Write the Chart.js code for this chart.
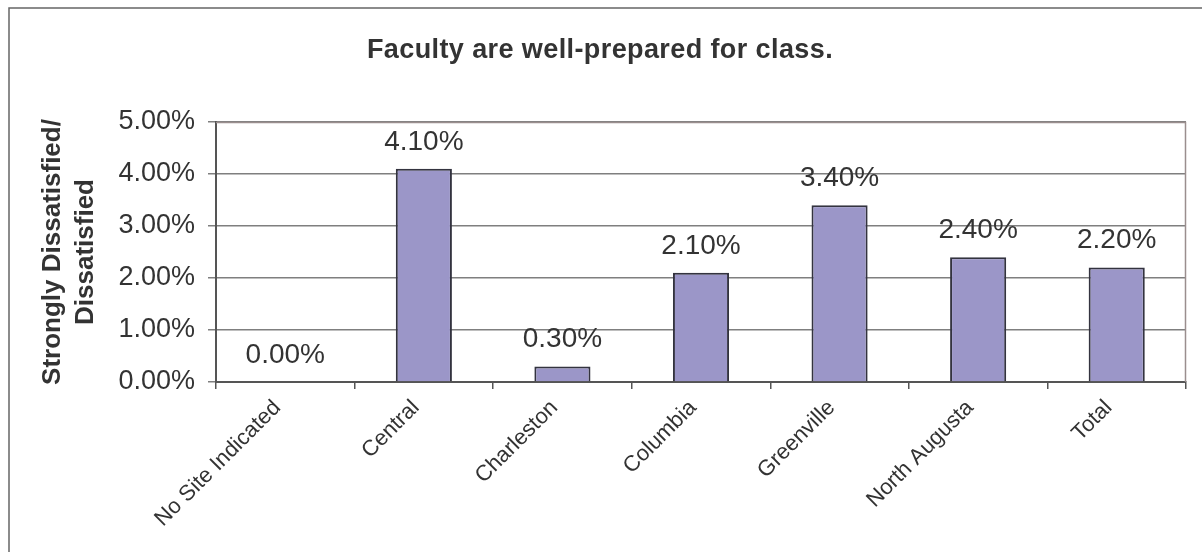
<!DOCTYPE html>
<html>
<head>
<meta charset="utf-8">
<script src="https://cdn.jsdelivr.net/npm/chart.js@4.4.1/dist/chart.umd.min.js"></script>
<style>
html,body{margin:0;padding:0;background:#fff;}
#wrap{width:1202px;height:552px;position:relative;}
</style>
</head>
<body>
<div id="wrap"><canvas id="c" width="1202" height="552"></canvas></div>
<script>
const chartTitle = 'Faculty are well-prepared for class.';
const yAxisTitle = ['Strongly Dissatisfied/', 'Dissatisfied'];
const categories = ['No Site Indicated', 'Central', 'Charleston', 'Columbia', 'Greenville', 'North Augusta', 'Total'];
const values = [0.0, 4.1, 0.3, 2.1, 3.4, 2.4, 2.2];
const yTicks = [0, 1, 2, 3, 4, 5];

const FONT = '"Liberation Sans", Arial, sans-serif';

const decor = {
  id: 'decor',
  beforeDraw(chart) {
    const ctx = chart.ctx;
    ctx.save();
    ctx.fillStyle = '#fff';
    ctx.fillRect(0, 0, chart.width, chart.height);
    ctx.strokeStyle = '#666';
    ctx.lineWidth = 1.5;
    ctx.strokeRect(9, 8, chart.width + 20, chart.height + 20);
    ctx.restore();
  },
  afterDraw(chart) {
    const ctx = chart.ctx;
    const a = chart.chartArea;
    ctx.save();
    // plot frame top/right
    ctx.strokeStyle = '#9a8e8e';
    ctx.lineWidth = 1.5;
    ctx.beginPath();
    ctx.moveTo(a.left, a.top + 0.5);
    ctx.lineTo(a.right - 0.5, a.top + 0.5);
    ctx.lineTo(a.right - 0.5, a.bottom);
    ctx.stroke();
    // title
    ctx.fillStyle = '#333';
    ctx.font = 'bold 27px ' + FONT;
    ctx.textAlign = 'center';
    ctx.textBaseline = 'middle';
    ctx.letterSpacing = '0.4px';
    ctx.fillText(chartTitle, 600, 51);
    ctx.letterSpacing = '0px';
    // y axis title
    ctx.save();
    ctx.translate(0, (a.top + a.bottom) / 2);
    ctx.rotate(-Math.PI / 2);
    ctx.font = 'bold 26px ' + FONT;
    ctx.fillText(yAxisTitle[0], 0, 53);
    ctx.fillText(yAxisTitle[1], 0, 86);
    ctx.restore();
    // data labels
    const meta = chart.getDatasetMeta(0);
    ctx.font = '28px ' + FONT;
    ctx.fillStyle = '#333';
    ctx.textAlign = 'center';
    ctx.textBaseline = 'middle';
    meta.data.forEach((bar, i) => {
      ctx.fillText(values[i].toFixed(2) + '%', bar.x, bar.y - 27);
    });
    ctx.restore();
  }
};

new Chart(document.getElementById('c'), {
  type: 'bar',
  data: {
    labels: categories,
    datasets: [{
      data: values,
      backgroundColor: '#9b96c8',
      borderColor: '#33333f',
      borderWidth: 2,
      borderSkipped: 'bottom',
      barPercentage: 0.405,
      categoryPercentage: 1.0
    }]
  },
  options: {
    responsive: false,
    animation: false,
    devicePixelRatio: 1,
    layout: { padding: { left: 0, right: 16, top: 122, bottom: 0 } },
    plugins: { legend: { display: false }, tooltip: { enabled: false }, title: { display: false } },
    scales: {
      x: {
        offset: true,
        grid: { offset: true, drawOnChartArea: false, drawTicks: true, tickLength: 7, color: '#555', lineWidth: 1.5 },
        border: { display: true, color: '#555', width: 2 },
        ticks: { color: '#333', font: { family: FONT, size: 22 }, maxRotation: 45, minRotation: 45, padding: 6, labelOffset: -8, autoSkip: false },
        afterFit(scale) { scale.height = 552 - 382; }
      },
      y: {
        min: 0, max: 5,
        afterBuildTicks(scale) { scale.ticks = yTicks.map(v => ({ value: v })); },
        grid: { color: '#7f7f7f', lineWidth: 1.5, drawTicks: true, tickLength: 8 },
        border: { display: true, color: '#555', width: 2 },
        ticks: { color: '#333', font: { family: FONT, size: 27 }, padding: 13, callback: v => v.toFixed(2) + '%' },
        afterFit(scale) { scale.width = 216; }
      }
    }
  },
  plugins: [decor]
});
</script>
</body>
</html>
